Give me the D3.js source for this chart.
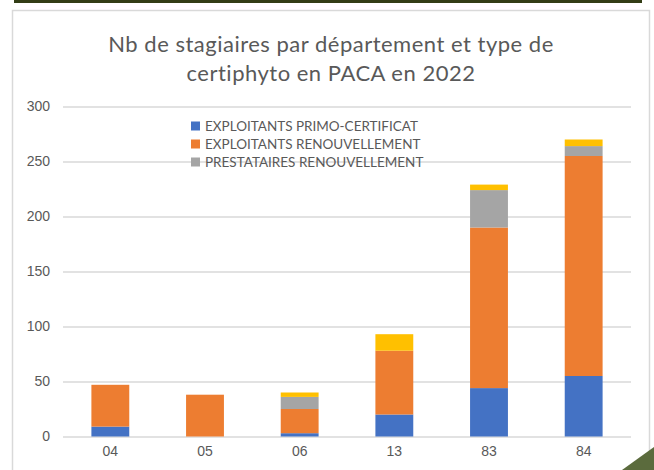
<!DOCTYPE html>
<html>
<head>
<meta charset="utf-8">
<script src="https://cdn.jsdelivr.net/npm/d3@7"></script>
<style>
  body { margin: 0; background: #ffffff; }
  svg { display: block; font-family: Lato, "Open Sans", sans-serif; }
</style>
</head>
<body>
<svg id="chart" width="654" height="470"></svg>
<script>
// Chart data
var departements = ["04", "05", "06", "13", "83", "84"];
var primoCertificat = [9, 0, 3, 20, 44, 55];
var exploitantsRenouv = [38, 38, 22, 58, 146, 200];
var prestatairesRenouv = [0, 0, 11, 0, 34, 9];
var autres = [0, 0, 4, 15, 5, 6];
var seriesNames = ["EXPLOITANTS PRIMO-CERTIFICAT", "EXPLOITANTS RENOUVELLEMENT", "PRESTATAIRES RENOUVELLEMENT", "AUTRES"];
var seriesColors = ["#4472c4", "#ed7d31", "#a5a5a5", "#ffc000"];
var yTicks = [0, 50, 100, 150, 200, 250, 300];
var titleLines = ["Nb de stagiaires par département et type de", "certiphyto en PACA en 2022"];

var svg = d3.select("svg"),
    width = +svg.attr("width"),
    height = +svg.attr("height");

// build rows for the stack
var rows = departements.map(function(d, i) {
  return { dep: d, s0: primoCertificat[i], s1: exploitantsRenouv[i], s2: prestatairesRenouv[i], s3: autres[i] };
});
var stack = d3.stack().keys(["s0", "s1", "s2", "s3"]);
var stacked = stack(rows);

// frame decorations
svg.append("rect")
    .attr("x", 14).attr("y", 0)
    .attr("width", 628).attr("height", 3)
    .attr("fill", "#323d15");

svg.append("rect")
    .attr("x", 12.5).attr("y", 10.5)
    .attr("width", 637).attr("height", 470)
    .attr("fill", "#ffffff")
    .attr("stroke", "#d9d9d9")
    .attr("stroke-width", 1.5);

// scales
var x = d3.scaleBand()
    .domain(departements)
    .range([63, 631])
    .paddingInner(0.6)
    .paddingOuter(0.3);

var y = d3.scaleLinear()
    .domain([0, 300])
    .range([436.5, 106.5]);

// gridlines + y labels
var yAxis = svg.append("g")
    .attr("transform", "translate(63,0)")
    .call(d3.axisLeft(y).tickValues(yTicks).tickSize(-568).tickPadding(13));
yAxis.select(".domain").remove();
yAxis.selectAll("line").attr("stroke", "#d9d9d9").attr("stroke-width", 1.3);
yAxis.selectAll("text")
    .attr("fill", "#595959")
    .style("font-size", "14px");

// bars
svg.append("g")
  .selectAll("g")
  .data(stacked)
  .enter().append("g")
    .attr("fill", function(d, i) { return seriesColors[i]; })
  .selectAll("rect")
  .data(function(d) { return d; })
  .enter().append("rect")
    .attr("x", function(d) { return x(d.data.dep); })
    .attr("y", function(d) { return y(d[1]); })
    .attr("width", x.bandwidth())
    .attr("height", function(d) { return y(d[0]) - y(d[1]); });

// x axis labels
var xAxis = svg.append("g")
    .attr("transform", "translate(0,436.5)")
    .call(d3.axisBottom(x).tickSize(0).tickPadding(10));
xAxis.select(".domain").remove();
xAxis.selectAll("text")
    .attr("fill", "#595959")
    .style("font-size", "14px");

// title
svg.append("text")
    .attr("text-anchor", "middle")
    .attr("fill", "#595959")
    .style("font-size", "22px")
    .style("letter-spacing", "0.5px")
  .selectAll("tspan")
  .data(titleLines)
  .enter().append("tspan")
    .attr("x", 331)
    .attr("y", function(d, i) { return 52 + i * 29; })
    .text(function(d) { return d; });

// legend (only three entries shown in the original)
var legend = svg.append("g")
    .attr("transform", "translate(191,126)");
var item = legend.selectAll("g")
    .data(seriesNames.slice(0, 3))
    .enter().append("g")
    .attr("transform", function(d, i) { return "translate(0," + i * 18 + ")"; });
item.append("rect")
    .attr("x", 0).attr("y", -4.5)
    .attr("width", 9).attr("height", 9)
    .attr("fill", function(d, i) { return seriesColors[i]; });
item.append("text")
    .attr("x", 14)
    .attr("dy", "0.35em")
    .attr("fill", "#595959")
    .style("font-size", "13.5px")
    .text(function(d) { return d; });

// corner triangle
svg.append("path")
    .attr("d", "M622,470L654,447L654,470Z")
    .attr("fill", "#5b6b3d");
</script>
</body>
</html>
